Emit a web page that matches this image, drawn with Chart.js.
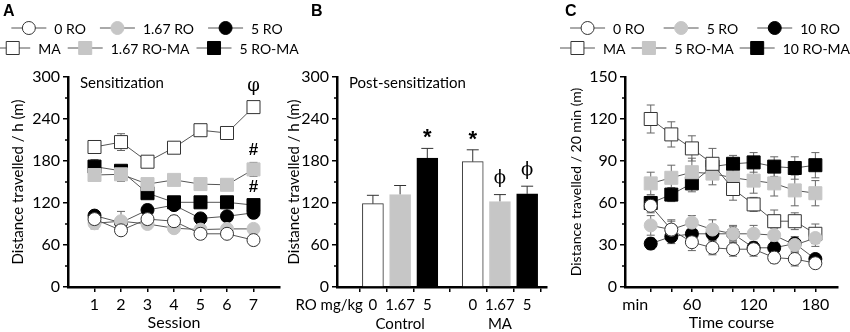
<!DOCTYPE html>
<html lang="en">
<head>
<meta charset="UTF-8">
<title>Distance travelled</title>
<script src="https://cdn.jsdelivr.net/npm/chart.js"></script>
<style>
    body { margin: 0; background: #fff; }
    #wrap { position: relative; width: 850px; height: 332px; overflow: hidden; }
    #wrap canvas { position: absolute; top: 0; }
    .panel-letter { position: absolute; top: 2px; font: bold 16px "Liberation Sans", Arial, sans-serif; color: #000; }
</style>
</head>
<body>
<div id="wrap">
    <canvas id="chartA" width="300" height="332" style="left:0px"></canvas>
    <canvas id="chartB" width="275" height="332" style="left:285px"></canvas>
    <canvas id="chartC" width="290" height="332" style="left:560px"></canvas>
    <div class="panel-letter" style="left:3px">A</div>
    <div class="panel-letter" style="left:311px">B</div>
    <div class="panel-letter" style="left:565px">C</div>
</div>
<script>
// ---- Panel A: sensitization sessions ----
const sessions = [1, 2, 3, 4, 5, 6, 7];
const a0RO = [97, 81, 97, 94, 76, 76, 67];
const a0ROErr = [5, 6, 8, 8, 5, 5, 5];
const a167RO = [91, 94, 90, 84, 82, 83, 83];
const a167ROErr = [8, 14, 6, 6, 4, 4, 6];
const a5RO = [102, 92, 110, 117, 98, 101, 106];
const a5ROErr = [5, 8, 8, 6, 4, 5, 6];
const aMA = [200, 207, 179, 199, 224, 220, 257];
const aMAErr = [6, 12, 6, 8, 6, 6, 7];
const a167ROMA = [160, 161, 147, 153, 147, 146, 168];
const a167ROMAErr = [6, 10, 6, 5, 4, 4, 10];
const a5ROMA = [172, 166, 134, 121, 121, 121, 117];
const a5ROMAErr = [10, 6, 4, 4, 4, 4, 8];
const aMAMarks = ['', '', '', '', '', '', 'φ'];
const a167ROMAMarks = ['', '', '', '', '', '', '#'];
const a5ROMAMarks = ['', '', '', '', '', '', '#'];

// ---- Panel B: post-sensitization ----
const bDoses = ['0', '1.67', '5', '0', '1.67', '5'];
const bSlots = [1, 2, 3, 4.67, 5.67, 6.67];
const bGroups = ['Control', 'MA'];
const bValues = [119, 132, 184, 179, 122, 133];
const bErrors = [12, 13, 14, 17, 10, 11];
const bMarks = ['', '', '*', '*', 'ϕ', 'ϕ'];

// ---- Panel C: time course (20 min bins) ----
const times = [20, 40, 60, 80, 100, 120, 140, 160, 180];
const c0RO = [58, 41, 32, 28, 27, 27, 21, 20, 17];
const c0ROErr = [5, 6, 6, 5, 5, 5, 4, 5, 3];
const c5RO = [44, 41, 46, 41, 38, 38, 37, 30, 35];
const c5ROErr = [7, 7, 5, 7, 6, 6, 5, 5, 6];
const c10RO = [31, 36, 38, 38, 38, 28, 28, 31, 20];
const c10ROErr = [4, 5, 5, 5, 5, 4, 4, 5, 3];
const cMA = [120, 109, 99, 88, 70, 59, 47, 47, 38];
const cMAErr = [10, 9, 9, 11, 8, 5, 8, 6, 7];
const c5ROMA = [74, 78, 82, 81, 78, 76, 74, 69, 67];
const c5ROMAErr = [8, 9, 10, 8, 9, 9, 9, 11, 9];
const c10ROMA = [60, 66, 74, 86, 88, 89, 86, 85, 87];
const c10ROMAErr = [5, 5, 6, 6, 6, 7, 7, 8, 9];

const GRAY = '#c6c6c6';
const FONT = 'Lato, "Noto Sans", sans-serif';
Chart.defaults.font.family = FONT;
Chart.defaults.font.size = 16;
Chart.defaults.color = '#000';

const markerStyles = {
    openCircle:  { pointStyle: 'circle', pointRadius: 6.5, pointBackgroundColor: '#fff', pointBorderColor: '#333' },
    grayCircle:  { pointStyle: 'circle', pointRadius: 6.5, pointBackgroundColor: GRAY, pointBorderColor: GRAY },
    blackCircle: { pointStyle: 'circle', pointRadius: 6.5, pointBackgroundColor: '#000', pointBorderColor: '#000' },
    openSquare:  { pointStyle: 'rect', pointRadius: 9.2, pointBackgroundColor: '#fff', pointBorderColor: '#333' },
    graySquare:  { pointStyle: 'rect', pointRadius: 9.2, pointBackgroundColor: GRAY, pointBorderColor: GRAY },
    blackSquare: { pointStyle: 'rect', pointRadius: 9.2, pointBackgroundColor: '#000', pointBorderColor: '#000' }
};

function series(label, xs, ys, errs, kind, marks) {
    return Object.assign({
        label: label,
        data: xs.map((x, i) => ({ x: x, y: ys[i] })),
        errors: errs,
        marks: marks || null,
        borderColor: '#555',
        borderWidth: 1,
        pointBorderWidth: 1,
        pointHoverRadius: 6.5,
        tension: 0
    }, markerStyles[kind]);
}

function drawMarker(ctx, ds, x, y) {
    ctx.save();
    ctx.fillStyle = ds.pointBackgroundColor;
    ctx.strokeStyle = ds.pointBorderColor;
    ctx.lineWidth = 1;
    ctx.beginPath();
    if (ds.pointStyle === 'rect') {
        const h = Math.SQRT1_2 * ds.pointRadius;
        ctx.rect(x - h, y - h, 2 * h, 2 * h);
    } else {
        ctx.arc(x, y, ds.pointRadius, 0, Math.PI * 2);
    }
    ctx.fill();
    ctx.stroke();
    ctx.restore();
}

// error bars behind the marks, significance symbols on top
const errorBars = {
    id: 'errorBars',
    beforeDatasetsDraw(chart) {
        const ctx = chart.ctx, ys = chart.scales.y;
        chart.data.datasets.forEach((ds, i) => {
            if (!ds.errors) return;
            const meta = chart.getDatasetMeta(i);
            const cap = ds.capHalf || 4;
            ctx.save();
            ctx.strokeStyle = ds.errorColor || '#666';
            ctx.lineWidth = 1;
            meta.data.forEach((el, j) => {
                const v = ds.data[j].y, e = ds.errors[j];
                const top = ys.getPixelForValue(v + e);
                const bot = ys.getPixelForValue(ds.errorUpOnly ? v : v - e);
                ctx.beginPath();
                ctx.moveTo(el.x, top); ctx.lineTo(el.x, bot);
                ctx.moveTo(el.x - cap, top); ctx.lineTo(el.x + cap, top);
                if (!ds.errorUpOnly) { ctx.moveTo(el.x - cap, bot); ctx.lineTo(el.x + cap, bot); }
                ctx.stroke();
            });
            ctx.restore();
        });
    },
    afterDatasetsDraw(chart) {
        const ctx = chart.ctx, ys = chart.scales.y;
        chart.data.datasets.forEach((ds, i) => {
            if (!ds.marks) return;
            const meta = chart.getDatasetMeta(i);
            ctx.save();
            ctx.fillStyle = '#000';
            ctx.textAlign = 'center';
            ctx.textBaseline = 'middle';
            meta.data.forEach((el, j) => {
                const m = ds.marks[j];
                if (!m) return;
                const top = ys.getPixelForValue(ds.data[j].y + ds.errors[j]);
                if (m === '*') { ctx.font = 'bold 22px "Liberation Sans", sans-serif'; ctx.fillText(m, el.x, top - 10); }
                else if (m === '#') { ctx.font = 'bold 17px "Liberation Sans", sans-serif'; ctx.fillText(m, el.x, top - 12); }
                else { ctx.font = '18px "DejaVu Serif", serif'; ctx.fillText(m, el.x, top - 16); }
            });
            ctx.restore();
        });
    }
};

// short minor ticks (the scale draws only the labelled ones)
const minorTicks = {
    id: 'minorTicks',
    afterDraw(chart) {
        const ctx = chart.ctx;
        ctx.save();
        ctx.strokeStyle = '#000';
        ctx.lineWidth = 1.5;
        Object.values(chart.scales).forEach(s => {
            const every = s.options.labelEvery;
            if (!every) return;
            s.ticks.forEach(t => {
                if (t.value % every === 0) return;
                const p = s.getPixelForValue(t.value);
                ctx.beginPath();
                if (s.isHorizontal()) { ctx.moveTo(p, s.top); ctx.lineTo(p, s.top + 3); }
                else { ctx.moveTo(s.right, p); ctx.lineTo(s.right - 3, p); }
                ctx.stroke();
            });
        });
        ctx.restore();
    }
};

// legend rows with line-marker-line keys, panel note, dose caption
const decor = {
    id: 'decor',
    afterDraw(chart, args, o) {
        const ctx = chart.ctx, ca = chart.chartArea;
        ctx.save();
        ctx.fillStyle = '#000';
        ctx.textBaseline = 'middle';
        if (o.note) {
            ctx.font = '15px ' + FONT;
            ctx.textAlign = 'left';
            ctx.fillText(o.note, ca.left + 12, ca.top + 6);
        }
        if (o.caption) {
            ctx.font = '15px ' + FONT;
            ctx.textAlign = 'right';
            const x0 = chart.scales.x.getPixelForValue(bSlots[0]);
            ctx.fillText(o.caption, x0 - 10, ca.bottom + 18);
        }
        (o.rows || []).forEach((row, r) => {
            ctx.font = '14px ' + FONT;
            const items = row.map(i => chart.data.datasets[i]);
            const widths = items.map(ds => 35 + 8 + ctx.measureText(ds.label).width);
            const total = widths.reduce((a, b) => a + b, 0) + o.gaps[r] * (items.length - 1);
            let x = o.cx - total / 2;
            const y = o.rowY[r];
            items.forEach((ds, k) => {
                ctx.strokeStyle = '#555';
                ctx.lineWidth = 1;
                ctx.beginPath(); ctx.moveTo(x, y); ctx.lineTo(x + 35, y); ctx.stroke();
                drawMarker(ctx, ds, x + 17.5, y);
                ctx.fillStyle = '#000';
                ctx.textAlign = 'left';
                ctx.fillText(ds.label, x + 43, y + 1);
                x += widths[k] + o.gaps[r];
            });
        });
        ctx.restore();
    }
};

function yScale(max, step, every, width, title, titleSize, titlePad) {
    return {
        min: 0, max: max,
        labelEvery: every,
        afterFit: s => { s.width = width; },
        ticks: { stepSize: step, autoSkip: false, padding: 3, callback: v => (v % every === 0 ? v : '') },
        grid: {
            drawOnChartArea: false, tickLength: 5, lineWidth: 1.5,
            tickColor: c => (c.tick && c.tick.value % every === 0 ? '#000' : 'rgba(0,0,0,0)')
        },
        border: { color: '#000', width: 2.5 },
        title: { display: true, text: title, font: { size: titleSize }, padding: { top: titlePad, bottom: 0 } }
    };
}

function xScale(min, max, tickValues, label, title) {
    return {
        type: 'linear', min: min, max: max,
        afterFit: s => { s.height = 45; },
        afterBuildTicks: s => { s.ticks = tickValues.map(v => ({ value: v })); },
        ticks: { autoSkip: false, maxRotation: 0, padding: 3, callback: label },
        grid: { drawOnChartArea: false, tickLength: 5, color: '#000', lineWidth: 1.5 },
        border: { color: '#000', width: 2.5 },
        title: { display: !!title, text: title || '', font: { size: 16 }, padding: { top: 0, bottom: 0 } }
    };
}

const baseOptions = {
    responsive: false,
    animation: false,
    events: [],
    plugins: { legend: { display: false }, tooltip: { enabled: false } }
};

// ---- A ----
new Chart(document.getElementById('chartA'), {
    type: 'line',
    data: {
        datasets: [
            series('0 RO', sessions, a0RO, a0ROErr, 'openCircle'),
            series('1.67 RO', sessions, a167RO, a167ROErr, 'grayCircle'),
            series('5 RO', sessions, a5RO, a5ROErr, 'blackCircle'),
            series('MA', sessions, aMA, aMAErr, 'openSquare', aMAMarks),
            series('1.67 RO-MA', sessions, a167ROMA, a167ROMAErr, 'graySquare', a167ROMAMarks),
            series('5 RO-MA', sessions, a5ROMA, a5ROMAErr, 'blackSquare', a5ROMAMarks)
        ]
    },
    options: Object.assign({}, baseOptions, {
        layout: { padding: { top: 77, right: 20, left: 0, bottom: 0 } },
        scales: {
            x: xScale(0, 8, sessions, v => v, 'Session'),
            y: yScale(300, 30, 60, 68, 'Distance travelled / h (m)', 15, 9)
        },
        plugins: Object.assign({}, baseOptions.plugins, {
            decor: { note: 'Sensitization', rows: [[0, 1, 2], [3, 4, 5]], rowY: [28, 48], gaps: [14, 7], cx: 147 }
        })
    }),
    plugins: [errorBars, minorTicks, decor]
});

// ---- B ----
new Chart(document.getElementById('chartB'), {
    type: 'bar',
    data: {
        datasets: [{
            label: 'Post-sensitization',
            data: bSlots.map((x, i) => ({ x: x, y: bValues[i] })),
            errors: bErrors,
            marks: bMarks,
            errorUpOnly: true,
            errorColor: '#333',
            capHalf: 6,
            backgroundColor: ['#fff', GRAY, '#000', '#fff', GRAY, '#000'],
            borderColor: ['#333', GRAY, '#000', '#333', GRAY, '#000'],
            borderWidth: 1,
            barThickness: 21
        }]
    },
    options: Object.assign({}, baseOptions, {
        layout: { padding: { top: 77, right: 13, left: 0, bottom: 0 } },
        scales: {
            x: Object.assign(xScale(-0.32, 7.4, bSlots, (v, i) => (i === 1 ? [bDoses[i], bGroups[0]] : i === 4 ? [bDoses[i], bGroups[1]] : bDoses[i])), {
                offset: false
            }),
            y: yScale(300, 30, 60, 52, 'Distance travelled / h (m)', 15, 0)
        },
        plugins: Object.assign({}, baseOptions.plugins, {
            decor: { note: 'Post-sensitization', caption: 'RO mg/kg', rows: [] }
        })
    }),
    plugins: [errorBars, minorTicks, decor]
});
(function () {
    // dose labels a little smaller than the session numbers
    const c = Chart.getChart('chartB');
    c.options.scales.x.ticks.font = { size: 15, lineHeight: 1.3 };
    c.update();
})();

// ---- C ----
const cTicks = [5].concat(times);
new Chart(document.getElementById('chartC'), {
    type: 'line',
    data: {
        datasets: [
            series('0 RO', times, c0RO, c0ROErr, 'openCircle'),
            series('5 RO', times, c5RO, c5ROErr, 'grayCircle'),
            series('10 RO', times, c10RO, c10ROErr, 'blackCircle'),
            series('MA', times, cMA, cMAErr, 'openSquare'),
            series('5 RO-MA', times, c5ROMA, c5ROMAErr, 'graySquare'),
            series('10 RO-MA', times, c10ROMA, c10ROMAErr, 'blackSquare')
        ]
    },
    options: Object.assign({}, baseOptions, {
        layout: { padding: { top: 77, right: 12, left: 0, bottom: 0 } },
        scales: {
            x: (() => {
                const s = xScale(-5, 202, cTicks, v => (v === 5 ? 'min' : v % 60 === 0 ? v : ''), 'Time course');
                s.grid.tickColor = ctx => (ctx.tick && ctx.tick.value === 5 ? 'rgba(0,0,0,0)' : '#000');
                return s;
            })(),
            y: yScale(150, 15, 30, 65, 'Distance travelled / 20 min (m)', 14, 8)
        },
        plugins: Object.assign({}, baseOptions.plugins, {
            decor: { rows: [[0, 1, 2], [3, 4, 5]], rowY: [28, 48], gaps: [19, 6], cx: 145 }
        })
    }),
    plugins: [errorBars, minorTicks, decor]
});
</script>
</body>
</html>
